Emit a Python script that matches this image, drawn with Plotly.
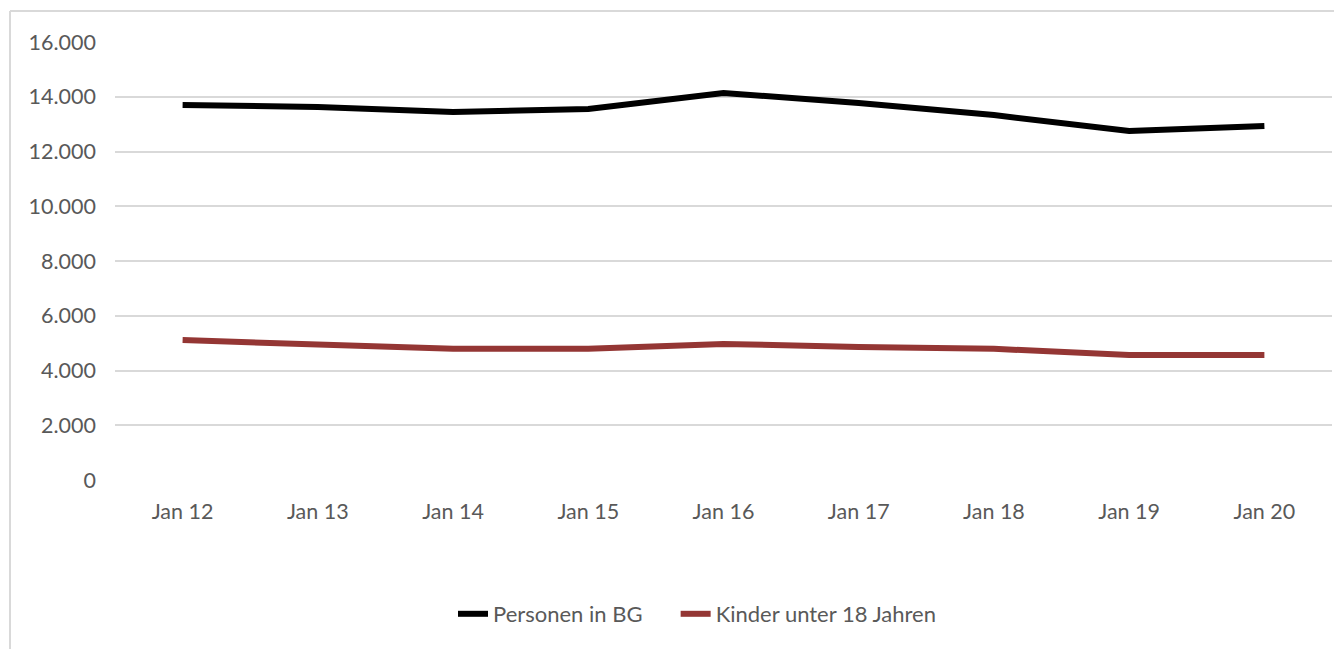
import plotly.graph_objects as go

categories = ["Jan 12", "Jan 13", "Jan 14", "Jan 15", "Jan 16", "Jan 17", "Jan 18", "Jan 19", "Jan 20"]
personen_bg = [13700, 13630, 13440, 13550, 14140, 13770, 13330, 12750, 12930]
kinder_u18 = [5110, 4970, 4790, 4790, 4970, 4860, 4790, 4570, 4570]
y_ticks = [0, 2000, 4000, 6000, 8000, 10000, 12000, 14000, 16000]
y_tick_labels = ["0", "2.000", "4.000", "6.000", "8.000", "10.000", "12.000", "14.000", "16.000"]
series_names = ["Personen in BG", "Kinder unter 18 Jahren"]

# page body adds an 8px offset
OFF = 8
W, H = 1342, 649
ML, MR, MT, MB = 115 - OFF, 10 + OFF, 42 - OFF, 169 + OFF
pw = W - ML - MR
ph = H - MT - MB

def px(p):
    return (p - OFF - ML) / pw

def py(q):
    return (H - MB - (q - OFF)) / ph

NBSP = "\u00a0"
fig = go.Figure()
fig.add_trace(go.Scatter(x=categories, y=personen_bg, mode="lines", name=series_names[0] + NBSP * 5,
                         line=dict(color="#000000", width=6)))
fig.add_trace(go.Scatter(x=categories, y=kinder_u18, mode="lines", name=series_names[1],
                         line=dict(color="#943634", width=6)))

font_family = "Lato, 'Open Sans', sans-serif"
fig.update_layout(
    width=W, height=H,
    margin=dict(l=ML, r=MR, t=MT, b=MB),
    paper_bgcolor="white", plot_bgcolor="white",
    font=dict(family=font_family, size=21, color="#595959"),
    showlegend=True,
    legend=dict(orientation="h", x=px(697), xanchor="center", y=py(614), yanchor="middle",
                font=dict(size=22, color="#595959"), tracegroupgap=0),
    xaxis=dict(type="category", range=[-0.5, 8.5], showgrid=False, zeroline=False,
               showline=False, ticks="", tickfont=dict(size=21.5), ticklabelstandoff=16),
    yaxis=dict(range=[0, 16000], tickvals=y_ticks, ticktext=y_tick_labels,
               showgrid=True, gridcolor="#d9d9d9", gridwidth=1.5, zeroline=False,
               showline=False, ticks="", tickfont=dict(size=21.5), ticklabelstandoff=18),
    shapes=[
        dict(type="line", xref="paper", yref="paper", x0=px(10), x1=px(W + 20), y0=py(11), y1=py(11),
             line=dict(color="#d9d9d9", width=2)),
        dict(type="line", xref="paper", yref="paper", x0=px(10), x1=px(10), y0=py(11), y1=py(H + 20),
             line=dict(color="#d9d9d9", width=2)),
    ],
)
fig.write_html("out.html")
